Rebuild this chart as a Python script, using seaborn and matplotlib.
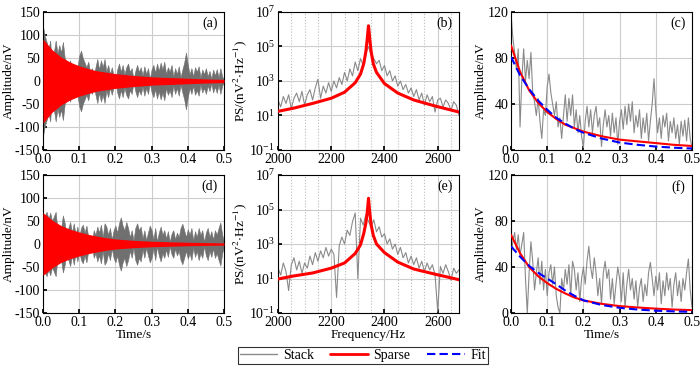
import numpy as np
import matplotlib
matplotlib.use("Agg")
import matplotlib.pyplot as plt
import seaborn as sns
from matplotlib.lines import Line2D
from matplotlib.ticker import (FixedLocator, MultipleLocator, NullLocator,
                               LogFormatterSciNotation, FormatStrFormatter)

# ---------------- data ----------------
dt = 0.005  # envelope sampling step (s)

# stack envelope, event 1 (panel c, also the +/- envelope of panel a)
stack_env_1 = [119, 98, 85, 70, 88, 20, 62, 88, 60, 78,
               62, 85, 50, 42, 30, 45, 25, 10, 35, 30,
               55, 66, 50, 40, 30, 42, 20, 28, 10, 30,
               48, 25, 45, 30, 48, 20, 35, 15, 30, 12,
               2, 25, 38, 20, 35, 15, 30, 38, 20, 28,
               3, 22, 35, 20, 30, 12, 32, 15, 28, 5,
               25, 35, 18, 38, 22, 40, 25, 42, 15, 30,
               20, 35, 10, 28, 15, 32, 8, 25, 40, 62,
               35, 15, 28, 10, 30, 20, 32, 8, 25, 15,
               28, 10, 22, 5, 25, 12, 26, 8, 28, 10,
               2]

# stack envelope, event 2 (panel f, envelope of panel d)
stack_env_2 = [50, 62, 70, 55, 68, 50, 60, 70, 30, 0,
               35, 62, 45, 20, 35, 48, 25, 45, 20, 38,
               15, 35, 42, 25, 40, 15, 5, 0, 30, 20,
               38, 25, 42, 15, 45, 38, 20, 35, 10, 30,
               40, 25, 45, 58, 40, 30, 48, 35, 15, 30,
               8, 35, 45, 30, 38, 12, 30, 8, 25, 40,
               30, 10, 35, 5, 25, 38, 20, 30, 12, 28,
               5, 22, 30, 10, 25, 15, 35, 44, 30, 15,
               32, 20, 35, 8, 28, 15, 35, 20, 30, 5,
               25, 35, 15, 28, 10, 30, 20, 35, 47, 20,
               5]

# sparse / fit envelopes
env_t = [0, 0.025, 0.05, 0.075, 0.1, 0.125, 0.15, 0.175, 0.2,
         0.25, 0.3, 0.35, 0.4, 0.45, 0.5]
sparse_env_1 = [91, 68, 52, 41, 33, 27, 22, 19, 16, 12, 9, 7.5, 6, 4.5, 3.5]
fit_env_1 = [81, 65, 53, 43, 35, 28, 23, 18.5, 15, 10, 6.5, 4.5, 3, 2, 1.3]
sparse_env_2 = [68, 52, 40, 32, 26, 21, 17, 13.5, 11, 8, 6, 4.8, 3.8, 3, 2.5]
fit_env_2 = [58, 49, 41, 35, 30, 25, 19.5, 15, 11, 7, 4.5, 3, 2, 1.4, 1]

# spectra (log10 of PS), stack sampled every 10 Hz from 2000 Hz
df_hz = 10
stack_ps_1 = [1.9, 1.5, 2.1, 1.7, 2.2, 1.4, 2.0, 2.3, 1.8, 2.4,
              1.6, 2.2, 2.5, 1.9, 2.6, 3.1, 2.0, 2.7, 2.3, 2.9,
              2.4, 3.0, 2.6, 3.2, 2.8, 3.5, 3.0, 3.7, 3.3, 4.1,
              3.6, 4.3, 3.9, 4.6, 5.0, 4.5, 4.3, 4.0, 4.2, 3.6,
              3.9, 3.3, 3.6, 3.0, 3.3, 2.7, 3.0, 2.5, 2.8, 2.3,
              2.6, 2.1, 2.5, 1.9, 2.3, 1.6, 2.2, 1.8, 2.1, 1.2,
              1.9, 2.0, 1.5, 1.9, 1.7, 1.3, 1.8, 1.6, 1.0]
stack_ps_2 = [1.6, 1.2, 1.9, 1.4, 0.3, 1.8, 2.2, 1.5, 2.0, 1.3,
              1.9, 1.6, 2.3, 1.8, 2.5, 2.0, 2.6, 2.2, 2.8, 2.3,
              2.7, 2.4, -0.1, 2.9, 3.4, 3.0, 3.8, 3.5, 4.3, 4.8,
              1.0, 4.5, 4.1, 4.7, 4.3, 4.0, 4.4, 3.7, 4.0, 3.4,
              3.6, 3.0, 3.3, 2.7, 3.0, 2.4, 2.8, 2.2, 2.5, 1.9,
              2.3, 1.8, 2.2, 1.6, 2.0, 1.4, 1.9, 1.5, 1.8, 1.2,
              -0.9, 1.7, 1.3, 1.8, 1.4, 0.9, 1.6, 1.3, 1.5]

sparse_f = [2000, 2060, 2130, 2200, 2250, 2290, 2310, 2322, 2330, 2335, 2338,
            2340, 2342, 2345, 2350, 2358, 2370, 2400, 2450, 2510, 2590, 2680]
sparse_ps_1 = [1.24, 1.43, 1.70, 2.0, 2.35, 2.9, 3.4, 4.0, 4.7, 5.4, 5.9,
               6.2, 5.9, 5.4, 4.7, 4.0, 3.5, 2.85, 2.3, 1.9, 1.55, 1.2]
sparse_ps_2 = [0.97, 1.15, 1.32, 1.6, 1.9, 2.45, 2.95, 3.6, 4.2, 4.8, 5.3,
               5.65, 5.3, 4.8, 4.1, 3.5, 3.0, 2.5, 1.95, 1.55, 1.25, 0.93]

# ---------------- style ----------------
sns.set_theme(style="whitegrid", rc={
    "axes.edgecolor": "black", "axes.linewidth": 0.8,
    "grid.color": "#cccccc", "grid.linewidth": 0.8,
    "xtick.direction": "in", "ytick.direction": "in",
    "xtick.bottom": True, "ytick.left": True,
    "xtick.major.size": 3, "ytick.major.size": 3,
    "xtick.color": "black", "ytick.color": "black",
    "axes.labelcolor": "black", "text.color": "black",
})
plt.rcParams['font.family'] = ['Liberation Serif', 'DejaVu Serif']
plt.rcParams['mathtext.fontset'] = 'stix'
plt.rcParams['axes.unicode_minus'] = False
FS_TICK = 10
FS_LAB = 9.5

GREY = "#8a8a8a"
GREY_FILL = "#707070"
RED = "#ff0000"
BLUE = "#0000ff"

fig = plt.figure(figsize=(7, 3.68), dpi=100)
W, H = 700, 368
lefts = [43, 278, 511]
tops = [12, 175]
aw, ah = 181, 138
axes = [[fig.add_axes([l / W, 1 - (t + ah) / H, aw / W, ah / H]) for l in lefts]
        for t in tops]

letters = [["(a)", "(b)", "(c)"], ["(d)", "(e)", "(f)"]]
stack_env = [stack_env_1, stack_env_2]
sparse_env = [sparse_env_1, sparse_env_2]
fit_env = [fit_env_1, fit_env_2]
stack_ps = [stack_ps_1, stack_ps_2]
sparse_ps = [sparse_ps_1, sparse_ps_2]

for r in range(2):
    t_stack = np.arange(len(stack_env[r])) * dt
    env = np.array(stack_env[r], dtype=float)
    senv = np.array(sparse_env[r], dtype=float)

    # ---- time series ----
    ax = axes[r][0]
    ax.fill_between(t_stack, -env, env, color=GREY_FILL, lw=0.4, zorder=2)
    ax.fill_between(env_t, -senv, senv, color=RED, lw=0, zorder=3)
    ax.set_xlim(0, 0.5)
    ax.set_ylim(-150, 150)
    ax.xaxis.set_major_locator(MultipleLocator(0.1))
    ax.yaxis.set_major_locator(MultipleLocator(50))
    ax.xaxis.set_major_formatter(FormatStrFormatter("%.1f"))
    ax.set_ylabel("Amplitude/nV", fontsize=FS_LAB, labelpad=0)

    # ---- spectrum ----
    ax = axes[r][1]
    ax.set_yscale("log")
    f_stack = 2000 + np.arange(len(stack_ps[r])) * df_hz
    sns.lineplot(x=f_stack, y=10.0 ** np.array(stack_ps[r]), ax=ax,
                 color=GREY, lw=0.8, estimator=None, zorder=2)
    sns.lineplot(x=sparse_f, y=10.0 ** np.array(sparse_ps[r]), ax=ax,
                 color=RED, lw=2.2, estimator=None, zorder=3)
    ax.set_xlim(2000, 2680)
    ax.set_ylim(1e-1, 1e7)
    ax.xaxis.set_major_locator(FixedLocator([2000, 2200, 2400, 2600]))
    ax.xaxis.set_minor_locator(MultipleLocator(50))
    ax.yaxis.set_major_locator(FixedLocator([1e-1, 1e1, 1e3, 1e5, 1e7]))
    ax.yaxis.set_minor_locator(NullLocator())
    ax.yaxis.set_major_formatter(LogFormatterSciNotation())
    ax.grid(which="minor", axis="x", linestyle=":", color="#bbbbbb", lw=0.8)
    ax.tick_params(which="minor", length=0)
    ax.set_ylabel(r"PS/(nV$^{2}\!\cdot\!$Hz$^{-1}$)", fontsize=FS_LAB,
                  labelpad=0)

    # ---- envelopes ----
    ax = axes[r][2]
    sns.lineplot(x=t_stack, y=env, ax=ax, color=GREY, lw=0.8,
                 estimator=None, zorder=2)
    sns.lineplot(x=env_t, y=senv, ax=ax, color=RED, lw=1.5,
                 estimator=None, zorder=3)
    sns.lineplot(x=env_t, y=fit_env[r], ax=ax, color=BLUE, lw=1.5,
                 estimator=None, zorder=4)
    ax.lines[-1].set_dashes((4, 2))
    ax.set_xlim(0, 0.5)
    ax.set_ylim(0, 120)
    ax.xaxis.set_major_locator(MultipleLocator(0.1))
    ax.yaxis.set_major_locator(MultipleLocator(40))
    ax.xaxis.set_major_formatter(FormatStrFormatter("%.1f"))
    ax.set_ylabel("Amplitude/nV", fontsize=FS_LAB, labelpad=0)

    for c in range(3):
        ax = axes[r][c]
        ax.grid(True, which="major", color="#cccccc", lw=0.8)
        ax.set_axisbelow(True)
        for s in ax.spines.values():
            s.set_color("black")
            s.set_linewidth(0.8)
        ax.tick_params(axis="x", labelsize=FS_TICK, pad=2.5)
        ax.tick_params(axis="y", labelsize=FS_TICK, pad=2)
        ax.text(0.965, 0.915, letters[r][c], transform=ax.transAxes,
                ha="right", va="center", fontsize=FS_TICK)
        leg = ax.get_legend()
        if leg is not None:
            leg.remove()

axes[1][0].set_xlabel("Time/s", fontsize=FS_LAB, labelpad=0)
axes[1][1].set_xlabel("Frequency/Hz", fontsize=FS_LAB, labelpad=0)
axes[1][2].set_xlabel("Time/s", fontsize=FS_LAB, labelpad=0)

handles = [Line2D([], [], color=GREY, lw=1.0),
           Line2D([], [], color=RED, lw=2.0),
           Line2D([], [], color=BLUE, lw=1.5, dashes=(4, 2))]
leg = fig.legend(handles, ["Stack", "Sparse", "Fit"], loc="center",
                 bbox_to_anchor=(0.518, 0.033), ncol=3, frameon=True,
                 fancybox=False, edgecolor="black", fontsize=FS_TICK,
                 handlelength=2.7, columnspacing=1.2, handletextpad=0.4,
                 borderpad=0.15, borderaxespad=0)
leg.get_frame().set_linewidth(0.8)

fig.savefig("out.png", dpi=100)
